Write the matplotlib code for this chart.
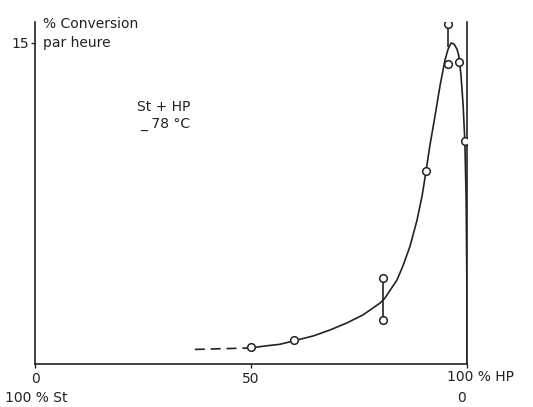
import matplotlib
matplotlib.use("Agg")
import matplotlib.pyplot as plt

plt.rcParams["font.family"] = ["DejaVu Sans"]

# measured points (% HP, % conversion per hour)
point_x = [50, 60, 80.6, 80.6, 90.5, 95.6, 95.6, 98.1, 99.5]
point_y = [0.8, 1.1, 4.0, 2.05, 9.0, 15.9, 14.0, 14.1, 10.4]

# hand-drawn smooth curve
curve_x = [50, 53.2, 56.7, 60.3, 64.4, 68.3, 72.2, 75.9, 79.9, 81.0, 83.8, 85.2, 86.8,
           88.4, 89.6, 90.5, 91.4, 92.6, 93.75, 94.9, 95.6, 96.3, 97.0, 97.7, 98.1,
           98.6, 99.1, 99.5, 99.8, 100, 100]
curve_y = [0.75, 0.84, 0.92, 1.1, 1.31, 1.59, 1.92, 2.29, 2.85, 3.08, 3.93, 4.6, 5.5,
           6.7, 7.85, 9.0, 10.2, 11.6, 13.0, 14.2, 14.7, 15.0, 14.95, 14.7, 14.4,
           13.5, 12.1, 10.4, 7.7, 3.0, 0]

# extrapolated part (dashed)
dash_x = [37, 50]
dash_y = [0.68, 0.75]

# bars joining duplicate measurements
bar_x = [80.6, 95.6]
bar_lo = [2.05, 14.8]
bar_hi = [4.0, 15.9]

ink = "#222222"
fig = plt.figure(figsize=(5.33, 4.07), dpi=100)
ax = fig.add_axes([0.0657, 0.1057, 0.8105, 0.8413])
ax.set_xlim(0, 100)
ax.set_ylim(0, 16)

ax.plot(curve_x, curve_y, color=ink, linewidth=1.2)
ax.plot(dash_x, dash_y, color=ink, linewidth=1.2, linestyle=(0, (6, 3.5)))
ax.vlines(bar_x, bar_lo, bar_hi, color=ink, linewidth=1.2)
ax.plot(point_x, point_y, "o", markersize=5.5, markerfacecolor="white",
        markeredgecolor=ink, markeredgewidth=1.1, zorder=3)

ax.spines["top"].set_visible(False)
for side in ["left", "right", "bottom"]:
    ax.spines[side].set_color(ink)
    ax.spines[side].set_linewidth(1.2)

ax.set_yticks([15])
ax.set_yticklabels(["15"], fontsize=10)
ax.set_xticks([0, 50, 100])
ax.set_xticklabels(["0", "50", ""], fontsize=10)
ax.tick_params(axis="both", direction="out", length=3, width=1, color=ink, pad=1, labelcolor=ink)
ax.tick_params(axis="x", pad=3)

ax.text(1.9, 15.9, "% Conversion", fontsize=10, color=ink, ha="left", va="center")
ax.text(1.9, 15.0, "par heure", fontsize=10, color=ink, ha="left", va="center")
ax.text(36, 12.0, "St + HP", fontsize=10, color=ink, ha="right", va="center")
ax.text(36, 11.2, "_ 78 °C", fontsize=10, color=ink, ha="right", va="center")

fig.text(447 / 533, 1 - 377 / 407, "100 % HP", fontsize=10, color=ink, ha="left", va="center")
fig.text(36 / 533, 1 - 398 / 407, "100 % St", fontsize=10, color=ink, ha="center", va="center")
fig.text(462 / 533, 1 - 398 / 407, "0", fontsize=10, color=ink, ha="center", va="center")

fig.savefig("out.png", dpi=100)
